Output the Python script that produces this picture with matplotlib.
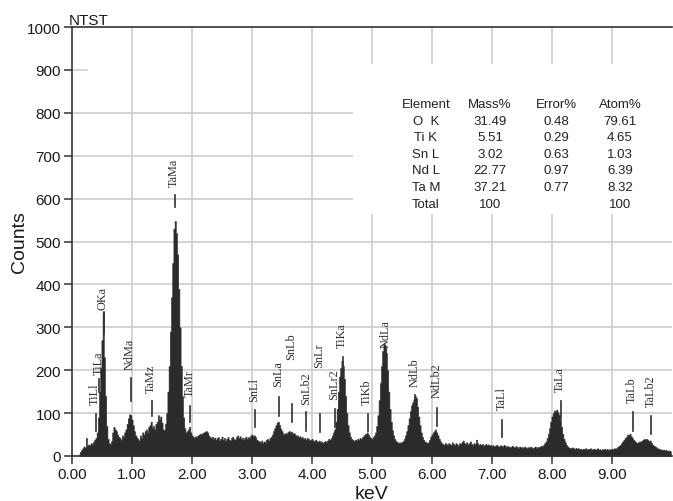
import numpy as np
import matplotlib
matplotlib.use("Agg")
import matplotlib.pyplot as plt
from matplotlib.patches import Rectangle

# ---------------- data ----------------
energy_start = 0.12      # keV of first channel
channel_width = 0.02     # keV per channel
counts = [
    4, 10, 14, 18, 22, 20, 42, 24, 27, 25,            # 0.12-0.30
    30, 28, 33, 38, 42, 55, 90, 150, 205, 270,        # 0.32-0.50
    335, 230, 140, 70, 40, 30, 28, 35, 55, 68,        # 0.52-0.70
    62, 58, 50, 45, 42, 38, 48, 45, 55, 62,           # 0.72-0.90
    75, 88, 97, 95, 85, 72, 58, 48, 44, 40,           # 0.92-1.10
    36, 48, 42, 55, 50, 58, 62, 55, 68, 72,           # 1.12-1.30
    80, 66, 70, 62, 75, 80, 95, 85, 92, 78,           # 1.32-1.50
    62, 60, 75, 100, 150, 210, 290, 370, 450, 530,    # 1.52-1.70
    548, 520, 470, 390, 300, 210, 140, 90, 65, 55,    # 1.72-1.90
    58, 62, 68, 55, 48, 45, 42, 46, 44, 48,           # 1.92-2.10
    50, 52, 50, 54, 55, 57, 58, 55, 48, 44,           # 2.12-2.30
    42, 45, 40, 43, 38, 42, 44, 36, 40, 45,           # 2.32-2.50
    38, 42, 35, 40, 44, 38, 36, 42, 45, 40,           # 2.52-2.70
    38, 44, 48, 42, 46, 40, 43, 38, 42, 45,           # 2.72-2.90
    40, 44, 42, 48, 50, 46, 48, 44, 38, 36,           # 2.92-3.10
    34, 32, 36, 30, 34, 32, 38, 40, 36, 42,           # 3.12-3.30
    45, 50, 58, 65, 72, 78, 80, 72, 64, 58,           # 3.32-3.50
    52, 50, 54, 52, 56, 58, 55, 57, 52, 54,           # 3.52-3.70
    50, 46, 48, 44, 46, 42, 44, 40, 42, 38,           # 3.72-3.90
    42, 40, 36, 38, 40, 36, 34, 38, 35, 33,           # 3.92-4.10
    36, 32, 34, 30, 33, 35, 32, 36, 40, 38,           # 4.12-4.30
    42, 48, 55, 62, 80, 110, 150, 185, 205, 222,      # 4.32-4.50
    210, 180, 140, 100, 72, 55, 45, 40, 38, 35,       # 4.52-4.70
    38, 36, 40, 38, 42, 40, 44, 46, 50, 52,           # 4.72-4.90
    55, 50, 45, 42, 40, 44, 48, 55, 70, 95,           # 4.92-5.10
    130, 170, 210, 245, 262, 258, 240, 200, 150, 110, # 5.12-5.30
    80, 60, 48, 40, 35, 32, 30, 32, 30, 33,           # 5.32-5.50
    35, 40, 48, 58, 72, 88, 105, 118, 125, 132,       # 5.52-5.70
    140, 135, 115, 92, 72, 55, 45, 38, 34, 32,        # 5.72-5.90
    30, 32, 38, 45, 50, 55, 58, 62, 55, 48,           # 5.92-6.10
    40, 34, 30, 28, 26, 30, 28, 26, 30, 28,           # 6.12-6.30
    26, 32, 28, 25, 30, 27, 24, 30, 28, 32,           # 6.32-6.50
    36, 30, 28, 32, 27, 30, 34, 28, 26, 30,           # 6.52-6.70
    28, 38, 30, 26, 28, 25, 28, 24, 26, 28,           # 6.72-6.90
    25, 27, 24, 26, 23, 25, 22, 24, 26, 23,           # 6.92-7.10
    22, 25, 24, 22, 26, 24, 21, 23, 22, 20,           # 7.12-7.30
    22, 24, 21, 20, 23, 21, 19, 22, 20, 21,           # 7.32-7.50
    19, 22, 20, 18, 21, 19, 22, 20, 18, 20,           # 7.52-7.70
    22, 19, 21, 20, 22, 24, 22, 26, 30, 34,           # 7.72-7.90
    42, 52, 65, 80, 92, 100, 106, 104, 108, 102,      # 7.92-8.10
    96, 84, 68, 52, 40, 32, 26, 22, 20, 19,           # 8.12-8.30
    18, 20, 18, 16, 19, 17, 18, 16, 17, 15,           # 8.32-8.50
    17, 16, 18, 15, 17, 16, 18, 15, 16, 17,           # 8.52-8.70
    15, 16, 18, 15, 16, 14, 16, 15, 17, 15,           # 8.72-8.90
    16, 14, 16, 15, 17, 16, 18, 17, 19, 22,           # 8.92-9.10
    24, 26, 30, 34, 38, 42, 45, 50, 48, 52,           # 9.12-9.30
    46, 42, 38, 35, 32, 30, 32, 34, 33, 36,           # 9.32-9.50
    38, 40, 38, 40, 37, 34, 36, 30, 26, 24,           # 9.52-9.70
    22, 20, 18, 17, 16, 15, 14, 15, 13, 14,           # 9.72-9.90
    12, 13, 12, 11,                                   # 9.92-9.98
]

# peak markers: name, energy (keV), marker line bottom/top (counts), label base (counts)
marker_names = ["TiLl", "TiLa", "OKa", "NdMa", "TaMz", "TaMa", "TaMr",
                "SnLl", "SnLa", "SnLb", "SnLb2", "SnLr", "SnLr2",
                "TiKa", "TiKb", "NdLa", "NdLb", "NdLb2",
                "TaLl", "TaLa", "TaLb", "TaLb2"]
marker_kev = [0.395, 0.452, 0.525, 0.978, 1.33, 1.71, 1.97,
              3.044, 3.444, 3.662, 3.905, 4.131, 4.376,
              4.51, 4.93, 5.23, 5.72, 6.09,
              7.17, 8.146, 9.343, 9.652]
marker_low = [58, 150, 284, 128, 93, 580, 79,
              68, 93, 79, 58, 56, 68,
              172, 58, 214, 110, 70,
              44, 86, 58, 51]
marker_high = [98, 180, 336, 182, 128, 608, 117,
               107, 138, 121, 103, 98, 110,
               231, 98, 249, 142, 112,
               84, 128, 103, 93]
label_base = [121, 191, 343, 203, 149, 629, 140,
              128, 163, 226, 121, 207, 133,
              254, 121, 254, 163, 138,
              110, 152, 126, 117]

# quantification table
table_header = ["Element", "Mass%", "Error%", "Atom%"]
table_elements = ["O  K", "Ti K", "Sn L", "Nd L", "Ta M", "Total"]
table_mass = ["31.49", "5.51", "3.02", "22.77", "37.21", "100"]
table_error = ["0.48", "0.29", "0.63", "0.97", "0.77", ""]
table_atom = ["79.61", "4.65", "1.03", "6.39", "8.32", "100"]

x_ticks = [0, 1, 2, 3, 4, 5, 6, 7, 8, 9]
y_ticks = [0, 100, 200, 300, 400, 500, 600, 700, 800, 900, 1000]

# ---------------- figure ----------------
W, H = 673, 502
fig = plt.figure(figsize=(W / 100, H / 100), dpi=100)
ax = fig.add_axes([72 / W, 1 - 457 / H, 600 / W, 429 / H])
ax.set_xlim(0, 10.0)
ax.set_ylim(0, 1000)

sans = "Liberation Sans"
serif = "Liberation Serif"
grid_c = "#cdcdcd"

# grid lines
for xv in x_ticks[1:]:
    ax.axvline(xv, color=grid_c, lw=1.2, zorder=0.5)
for yv in y_ticks[1:-1]:
    xmax = 0.025 if yv == 900 else 1.0
    ax.axhline(yv, xmax=xmax, color=grid_c, lw=1.2, zorder=0.5)

# white panel behind the table
ax.add_patch(Rectangle((4.68, 564), 10 - 4.68, 914 - 564, facecolor="white",
                       edgecolor="none", zorder=1))

# spectrum
energies = energy_start + channel_width * np.arange(len(counts))
ax.fill_between(energies, counts, 0, step="mid", color="#2b2b2b", lw=0.4,
                edgecolor="#2b2b2b", zorder=2)

# peak markers
for name, e, lo, hi, lb in zip(marker_names, marker_kev, marker_low,
                               marker_high, label_base):
    ax.plot([e, e], [lo, hi], color="#303030", lw=1.2, zorder=3)
    ax.text(e - 0.01, lb, name, rotation=90, ha="center", va="bottom",
            fontsize=8.8, family=serif, color="#303030", zorder=4)

# table
col_x = [426, 490, 556, 620]
row_y0, row_dy = 105, 16.6
def px2data(px, py):
    return ((px - 72) / 60.0, (457 - py) / 0.429)
for cx, txt in zip(col_x, table_header):
    x, y = px2data(cx, row_y0)
    ax.text(x, y, txt, ha="center", va="center", fontsize=9.5, family=sans,
            color="#222222", zorder=4)
for i in range(len(table_elements)):
    for cx, col in zip(col_x, [table_elements, table_mass, table_error, table_atom]):
        x, y = px2data(cx, row_y0 + row_dy * (i + 1))
        ax.text(x, y, col[i], ha="center", va="center", fontsize=9.5,
                family=sans, color="#222222", zorder=4)

# axes styling
ax.set_xticks(x_ticks)
ax.set_xticklabels([f"{v:.2f}" for v in x_ticks])
ax.set_yticks(y_ticks)
ax.set_yticklabels([str(v) for v in y_ticks])
ax.tick_params(axis="both", direction="out", length=6, width=1.1,
               color="#333333", labelsize=11, labelcolor="#1a1a1a", pad=2)
for lab in ax.get_xticklabels() + ax.get_yticklabels():
    lab.set_family(sans)
ax.spines["right"].set_visible(False)
for s in ["left", "top", "bottom"]:
    ax.spines[s].set_color("#333333")
    ax.spines[s].set_linewidth(1.2)

ax.set_xlabel("keV", fontsize=14, family=sans, color="#1a1a1a", labelpad=3)
ax.set_ylabel("Counts", fontsize=14, family=sans, color="#1a1a1a", labelpad=-1)
fig.text(69 / W, 1 - 25 / H, "NTST", fontsize=11, family=sans,
         color="#1a1a1a", ha="left", va="baseline")

fig.savefig("out.png", dpi=100, facecolor="white")
